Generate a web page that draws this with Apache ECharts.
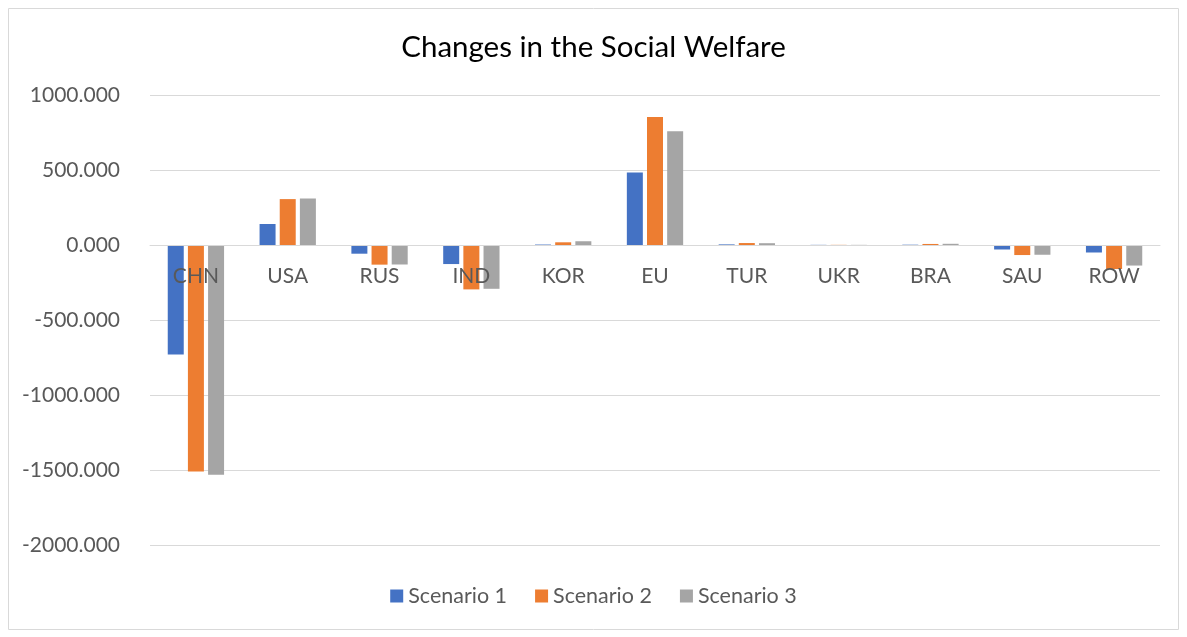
<!DOCTYPE html>
<html><head><meta charset="utf-8">
<script src="https://cdn.jsdelivr.net/npm/echarts@6/dist/echarts.min.js"></script>
<style>html,body{margin:0;padding:0;background:#fff}#c{width:1187px;height:637px}</style>
</head><body><div id="c"></div>
<script>
const categories = ['CHN','USA','RUS','IND','KOR','EU','TUR','UKR','BRA','SAU','ROW'];
const scenario1 = [-730, 140, -58, -127, 3, 484, 4, 1, 2, -30, -50];
const scenario2 = [-1510, 306, -131, -296, 18, 854, 13, 1, 7, -67, -160];
const scenario3 = [-1532, 310, -130, -292, 25, 758, 12, 1, 8, -65, -137];
const seriesNames = ['Scenario 1','Scenario 2','Scenario 3'];
const yMin = -2000, yMax = 1000, yStep = 500;
const colors = ['#4472C4','#ED7D31','#A5A5A5'];
const font = 'Lato, "Open Sans", sans-serif';
const gridTop = 95, gridBottom = 92, H = 637;
const plotH = H - gridTop - gridBottom;
const zeroOffset = -plotH * (0 - yMin) / (yMax - yMin);
const chart = echarts.init(document.getElementById('c'));
const mk = (name, data, i) => ({
  name, type:'bar', data, barWidth:16, barGap:'26%',
  itemStyle:{color:colors[i]}
});
chart.setOption({
  animation:false,
  title:{text:'Changes in the Social Welfare', left:'center', top:27,
    textStyle:{fontFamily:font, fontSize:29.5, fontWeight:'normal', color:'#000'}},
  graphic:[{type:'rect', shape:{x:8.5,y:8.5,width:1170,height:621},
    style:{fill:'none', stroke:'#d9d9d9', lineWidth:1}, silent:true}],
  legend:{bottom:25, left:'center', itemWidth:13, itemHeight:13, itemGap:28,
    icon:'rect', textStyle:{fontFamily:font, fontSize:21.5, color:'#595959'}},
  grid:{left:150, right:27, top:gridTop, bottom:gridBottom},
  xAxis:{type:'category', data:categories, position:'bottom', offset:zeroOffset, z:10,
    axisLine:{onZero:false, lineStyle:{color:'#d9d9d9', width:1}},
    axisTick:{show:false},
    axisLabel:{margin:21, fontFamily:font, fontSize:21, color:'#595959'}},
  yAxis:{type:'value', min:yMin, max:yMax, interval:yStep,
    axisLine:{show:false}, axisTick:{show:false},
    splitLine:{lineStyle:{color:'#d9d9d9', width:1}},
    axisLabel:{margin:30, fontFamily:font, fontSize:21, color:'#595959',
      formatter:v=>v.toFixed(3)}},
  series:[mk(seriesNames[0],scenario1,0), mk(seriesNames[1],scenario2,1), mk(seriesNames[2],scenario3,2)]
});
</script></body></html>
